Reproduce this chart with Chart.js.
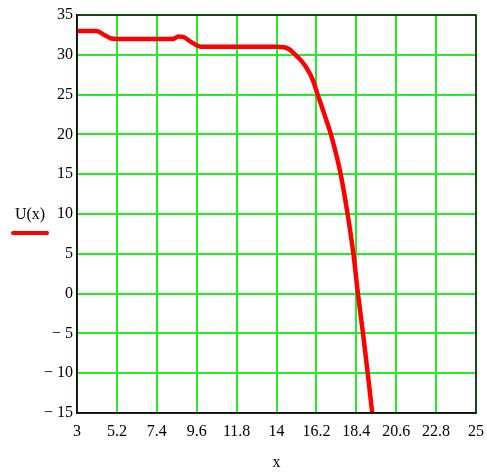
<!DOCTYPE html>
<html>
<head>
<meta charset="utf-8">
<script src="https://cdn.jsdelivr.net/npm/chart.js@4/dist/chart.umd.min.js"></script>
<style>
  html, body { margin: 0; padding: 0; background: #fff; }
  #wrap { width: 487px; height: 472px; }
</style>
</head>
<body>
<div id="wrap"><canvas id="uChart" width="487" height="472"></canvas></div>
<script>
// Datos
const xValues = [3, 4.08, 4.5, 4.9, 5.2, 8.3, 8.6, 8.85, 9.3, 9.7, 10, 14.0, 14.4, 14.7, 15.02, 15.35, 15.7, 16.0, 16.27, 16.65, 17.0, 17.54, 17.92, 18.24, 18.49, 18.77, 19.03, 19.28];
const uValues = [33, 33, 32.5, 32.05, 32, 32, 32.3, 32.25, 31.6, 31.1, 31, 31, 30.95, 30.7, 30.05, 29.3, 28.2, 26.85, 25, 22.45, 20, 15, 10, 5, 0, -5, -10, -15];
const xTicks = [3, 5.2, 7.4, 9.6, 11.8, 14, 16.2, 18.4, 20.6, 22.8, 25];
const yTicks = [-15, -10, -5, 0, 5, 10, 15, 20, 25, 30, 35];

const serif = "'Liberation Serif', 'DejaVu Serif', serif";

// Marco negro alrededor del área y leyenda estilo Mathcad
const framePlugin = {
    id: 'frame',
    afterDraw(chart) {
        const ctx = chart.ctx;
        const a = chart.chartArea;
        ctx.save();
        ctx.strokeStyle = '#111';
        ctx.lineWidth = 1.5;
        ctx.strokeRect(a.left, a.top, a.right - a.left, a.bottom - a.top);

        // leyenda
        const ds = chart.data.datasets[0];
        ctx.fillStyle = '#000';
        ctx.font = "16px " + serif;
        ctx.textAlign = 'center';
        ctx.textBaseline = 'middle';
        ctx.fillText(ds.label, 30, 215);
        ctx.strokeStyle = ds.borderColor;
        ctx.lineWidth = 4;
        ctx.lineCap = 'round';
        ctx.beginPath();
        ctx.moveTo(13, 233);
        ctx.lineTo(47, 233);
        ctx.stroke();
        ctx.restore();
    }
};

const points = xValues.map((x, i) => ({ x: x, y: uValues[i] }));

new Chart(document.getElementById('uChart').getContext('2d'), {
    type: 'scatter',
    data: {
        datasets: [{
            label: 'U(x)',
            data: points,
            showLine: true,
            borderColor: '#ff0000',
            borderWidth: 4.5,
            pointRadius: 0,
            cubicInterpolationMode: 'monotone',
            fill: false
        }]
    },
    options: {
        responsive: false,
        animation: false,
        layout: { padding: { top: 15, right: 11, left: 0, bottom: 0 } },
        plugins: {
            legend: { display: false },
            tooltip: { enabled: false }
        },
        scales: {
            x: {
                type: 'linear',
                min: 3,
                max: 25,
                afterBuildTicks: (scale) => { scale.ticks = xTicks.map(v => ({ value: v })); },
                afterFit: (scale) => {
                    scale.height = 59;
                    scale.paddingLeft = 0;
                    scale.paddingRight = 0;
                },
                grid: { color: '#22ee22', lineWidth: 2, drawTicks: false },
                border: { color: '#111', width: 1.5 },
                ticks: {
                    color: '#000',
                    font: { family: serif, size: 16 },
                    padding: 9,
                    maxRotation: 0,
                    autoSkip: false,
                    callback: (v) => String(Math.round(v * 10) / 10)
                },
                title: {
                    display: true,
                    text: 'x',
                    color: '#000',
                    font: { family: serif, size: 16 },
                    padding: { top: 0, bottom: 0 }
                }
            },
            y: {
                min: -15,
                max: 35,
                afterBuildTicks: (scale) => { scale.ticks = yTicks.map(v => ({ value: v })); },
                afterFit: (scale) => {
                    scale.width = 77;
                    scale.paddingTop = 0;
                    scale.paddingBottom = 0;
                },
                grid: { color: '#22ee22', lineWidth: 2, drawTicks: false },
                border: { color: '#111', width: 1.5 },
                ticks: {
                    color: '#000',
                    font: { family: serif, size: 16 },
                    padding: 4,
                    callback: (v) => v < 0 ? '\u2212 ' + Math.abs(v) : String(v)
                }
            }
        }
    },
    plugins: [framePlugin]
});
</script>
</body>
</html>
